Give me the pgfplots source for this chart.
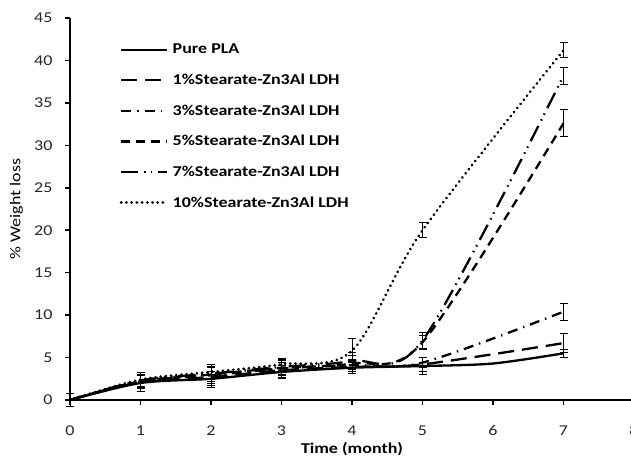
\documentclass[border=0pt]{standalone}
\usepackage{pgfplots}
\pgfplotsset{compat=1.18}
\usepackage{fontspec}
\setmainfont{Carlito}[FakeStretch=1.2]
\begin{document}
\begin{tikzpicture}
\begin{axis}[
  scale only axis,
  width=564pt, height=382pt,
  xmin=0, xmax=8, ymin=0, ymax=45,
  axis lines=left,
  axis line style={-, line width=1.8pt},
  clip=false,
  xtick={0,1,...,8}, ytick={0,5,...,45},
  tick style={black, line width=1.5pt},
  tick align=outside,
  major tick length=5pt,
  /pgf/number format/assume math mode=true,
  tick label style={font=\fontsize{15}{18}\selectfont, text=black!85},
  xticklabel style={yshift=-17pt},
  yticklabel style={xshift=-9pt},
  xlabel={\bfseries Time (month)},
  ylabel={\% Weight loss},
  label style={font=\fontsize{15}{18}\selectfont},
  xlabel style={at={(axis description cs:0.5,-0.128)}, anchor=center},
  ylabel style={at={(axis description cs:-0.095,0.5)}, anchor=center, rotate=0},
  every axis plot/.append style={black, line width=2.3pt, smooth, tension=0.5,
    error bars/y dir=both, error bars/y explicit,
    error bars/error bar style={solid, line width=1pt, line cap=butt},
    error bars/error mark options={solid, rotate=90, mark size=4pt, line width=1pt}},
  legend style={draw=none, fill=none, anchor=north west,
    at={(axis cs:0.66,42.4)}, row sep=14.6pt,
    font=\fontsize{15}{18}\selectfont\bfseries,
    nodes={inner xsep=4pt}},
  legend cell align=left,
  legend image code/.code={\draw[#1] (0pt,0pt) -- (46pt,0pt);},
]
\addplot[black, no marks, solid] table[x=t, y=w, y error=e] {
t w e
0 0 0.8
1 2.0 1.0
2 2.5 0.8
3 3.3 0.8
4 3.8 0.7
5 4.0 1.0
6 4.3 0.05
7 5.5 0.5
};
\addlegendentry{Pure PLA}
\addplot[black, no marks, dash pattern=on 16pt off 8pt] table[x=t, y=w, y error=e] {
t w e
0 0 0
1 2.1 0.8
2 2.7 1.2
3 3.5 0.9
4 3.9 0.8
5 4.2 0.8
7 6.7 1.1
};
\addlegendentry{1\%Stearate-Zn3Al LDH}
\addplot[black, no marks, dash pattern=on 10pt off 6pt on 1.5pt off 6pt] table[x=t, y=w, y error=e] {
t w e
0 0 0
1 2.2 0.7
2 2.9 1.0
3 3.7 1.0
4 4.1 0.7
5 4.4 0.6
7 10.4 1.0
};
\addlegendentry{3\%Stearate-Zn3Al LDH}
\addplot[black, no marks, dash pattern=on 9pt off 6pt] table[x=t, y=w, y error=e] {
t w e
0 0 0
1 2.2 0.7
2 3.0 0.8
3 3.8 0.9
4 4.3 0.9
5 6.8 0.8
7 32.6 1.6
};
\addlegendentry{5\%Stearate-Zn3Al LDH}
\addplot[black, no marks, dash pattern=on 17pt off 6pt on 1.5pt off 5pt on 1.5pt off 6pt] table[x=t, y=w, y error=e] {
t w e
0 0 0
1 2.3 0.7
2 3.1 0.9
3 3.9 0.9
4 4.6 1.0
5 7.0 0.9
7 38.2 1.0
};
\addlegendentry{7\%Stearate-Zn3Al LDH}
\addplot[black, no marks, line width=3pt, line cap=round, dash pattern=on 0.01pt off 5.2pt] table[x=t, y=w, y error=e] {
t w e
0 0 0
1 2.4 0.8
2 3.3 0.9
3 4.2 0.7
4 5.8 1.4
5 20.0 0.9
7 41.2 0.9
};
\addlegendentry{10\%Stearate-Zn3Al LDH}
\coordinate (BBsw) at (axis cs:-0.993,-7.19);
\coordinate (BBne) at (axis cs:7.957,47.12);
\end{axis}
\pgfresetboundingbox
\path[use as bounding box] (BBsw) rectangle (BBne);
\end{tikzpicture}
\end{document}
